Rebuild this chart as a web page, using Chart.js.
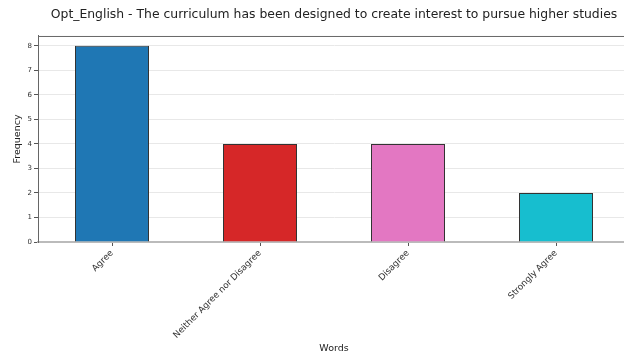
<!DOCTYPE html>
<html>
<head>
<meta charset="utf-8">
<script src="https://cdn.jsdelivr.net/npm/chart.js@4/dist/chart.umd.min.js"></script>
<style>
html,body{margin:0;padding:0;background:#fff;overflow:hidden;width:624px;height:357px;}
canvas{display:block;}
</style>
</head>
<body>
<canvas id="c" width="632" height="357"></canvas>
<script>
const categories = ["Agree", "Neither Agree nor Disagree", "Disagree", "Strongly Agree"];
const frequencies = [8, 4, 4, 2];
const barColors = ["#1f77b4", "#d62728", "#e377c2", "#17becf"];
const yTicks = [0, 1, 2, 3, 4, 5, 6, 7, 8];
const chartTitle = "Opt_English - The curriculum has been designed to create interest to pursue higher studies";
const xTitle = "Words";
const yTitle = "Frequency";

const topBorder = {
  id: "topBorder",
  afterDraw(chart) {
    const a = chart.chartArea, ctx = chart.ctx;
    ctx.save();
    ctx.strokeStyle = "#666";
    ctx.lineWidth = 1;
    ctx.beginPath();
    ctx.moveTo(a.left, a.top + 0.5);
    ctx.lineTo(a.right, a.top + 0.5);
    ctx.stroke();
    ctx.restore();
  }
};

new Chart(document.getElementById("c"), {
  type: "bar",
  data: {
    labels: categories,
    datasets: [{
      data: frequencies,
      backgroundColor: barColors,
      borderColor: "#333",
      borderWidth: 1,
      categoryPercentage: 1,
      barPercentage: 0.5
    }]
  },
  options: {
    responsive: false,
    animation: false,
    layout: { padding: { left: 0, right: 2, top: 0, bottom: 0 } },
    plugins: {
      legend: { display: false },
      tooltip: { enabled: false },
      title: {
        display: true,
        fullSize: false,
        text: chartTitle,
        color: "#222",
        font: { family: "DejaVu Sans", size: 12.4, weight: "normal", lineHeight: 1.2 },
        padding: { top: 7.6, bottom: 13.5 }
      }
    },
    scales: {
      x: {
        grid: { display: true, offset: false, drawOnChartArea: false, tickLength: 4, tickColor: "#555" },
        border: { color: "#bbb", width: 2 },
        ticks: {
          color: "#333",
          font: { family: "DejaVu Sans", size: 8.8 },
          minRotation: 45, maxRotation: 45, padding: 2
        },
        title: {
          display: true, text: xTitle, color: "#222",
          font: { family: "DejaVu Sans", size: 9.5 }, padding: { top: 0, bottom: 3 }
        },
        afterFit(s) { s.height = 115; }
      },
      y: {
        min: 0, max: 8.4,
        afterBuildTicks(s) { s.ticks = yTicks.map(v => ({ value: v })); },
        grid: { color: "#e8e8e8", lineWidth: 1, tickLength: 4, tickColor: "#555" },
        border: { color: "#666", width: 1 },
        ticks: {
          color: "#333",
          font: { family: "DejaVu Sans", size: 7 },
          padding: 2
        },
        title: {
          display: true, text: yTitle, color: "#222",
          font: { family: "DejaVu Sans", size: 9.5 }, padding: { top: 12, bottom: 0 }
        },
        afterFit(s) { s.width = 38; }
      }
    }
  },
  plugins: [topBorder]
});
</script>
</body>
</html>
